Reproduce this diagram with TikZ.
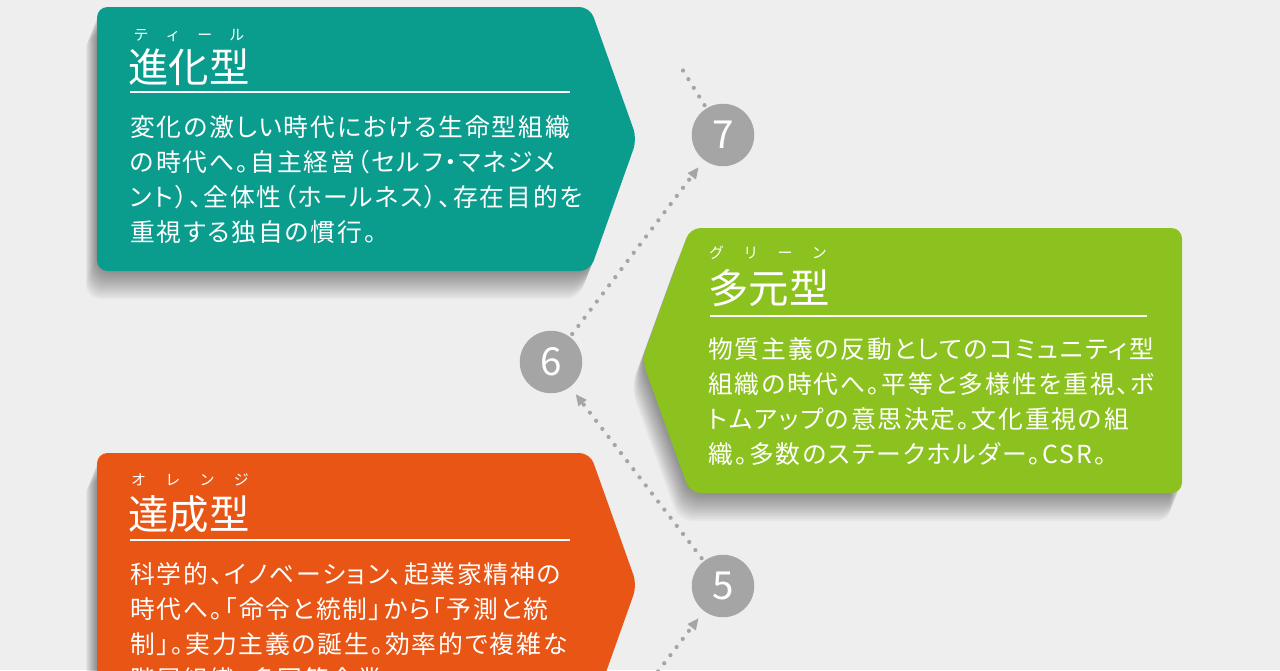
\documentclass[tikz,border=0pt]{standalone}
\usepackage{fontspec}
\newfontfamily\jpfont{Noto Sans CJK JP}
\newfontfamily\jpbody[CharacterWidth=AlternateProportional, LetterSpace=7.5]{Noto Sans CJK JP}
\usetikzlibrary{arrows.meta, positioning}
\definecolor{pagebg}{HTML}{EEEEEE}
\definecolor{tealcard}{HTML}{0A9C8D}
\definecolor{greencard}{HTML}{8CC21F}
\definecolor{orangecard}{HTML}{E85515}
\definecolor{stepgray}{HTML}{A5A5A5}

% card outlines
\def\tealshape{(97,7) -- (590,7) -- (637,139) -- (590,271) -- (97,271) -- cycle}
\def\greenshape{(690,228) -- (1182,228) -- (1182,493) -- (690,493) -- (642,360) -- cycle}
\def\orangeshape{(97,453) -- (590,453) -- (637,585) -- (590,717) -- (97,717) -- cycle}

\begin{document}
\begin{tikzpicture}[x=0.02cm, y=-0.02cm,
    card/.style={rounded corners=6pt},
    cardshade/.style={black, opacity=0.03, rounded corners=8pt},
    cardtitle/.style={text=white, font=\jpfont\fontsize{23}{26}\selectfont, inner sep=0pt, anchor=base west},
    cardruby/.style={text=white, font=\jpfont\fontsize{8.5}{9}\selectfont, inner sep=0pt},
    cardrule/.style={white, line width=1.2pt},
    cardbody/.style={text=white, font=\jpbody\fontsize{14.1}{19.9}\selectfont, align=left, inner sep=0pt, anchor=north west},
    stepnum/.style={circle, fill=stepgray, text=white, minimum size=1.25cm, inner sep=0pt, font=\jpfont\fontsize{22}{24}\selectfont},
    flowline/.style={stepgray, line width=2.4pt, line cap=round, dash pattern=on 0pt off 5.8pt, shorten <=2pt},
    flow/.style={flowline, -{Triangle[length=6.5pt,width=5.5pt]}, shorten >=5pt}
  ]
    \clip (0,0) rectangle (1280,670);
    \fill[pagebg] (0,0) rectangle (1280,670);

    % soft shadows under the cards
    \foreach \i in {1,...,14} {
      \fill[cardshade, shift={(-0.8*\i,2*\i)}] \tealshape;
      \fill[cardshade, shift={(-0.8*\i,2*\i)}] \greenshape;
      \fill[cardshade, shift={(-0.8*\i,2*\i)}] \orangeshape;
    }

    % Teal card
    \fill[tealcard, card] \tealshape;
    \node[cardruby] (tealruby) at (189,35) {\makebox[63pt]{テ\hfill ィ\hfill ー\hfill ル}};
    \node[cardtitle] (tealtitle) at (128,82) {進化型};
    \draw[cardrule] (130,92) -- (570,92);
    \node[cardbody] (tealbody) at (130,115) {変化の激しい時代における生命型組織\\の時代へ。自主経営（セルフ・マネジメ\\ント）、全体性（ホールネス）、存在目的を\\重視する独自の慣行。};

    % Green card
    \fill[greencard, card] \greenshape;
    \node[cardruby] (greenruby) at (768,253) {\makebox[67pt]{グ\hfill リ\hfill ー\hfill ン}};
    \node[cardtitle] (greentitle) at (708,303) {多元型};
    \draw[cardrule] (710,316) -- (1147,316);
    \node[cardbody] (greenbody) at (708,337) {物質主義の反動としてのコミュニティ型\\組織の時代へ。平等と多様性を重視、ボ\\トムアップの意思決定。文化重視の組\\織。多数のステークホルダー。CSR。};

    % Orange card
    \fill[orangecard, card] \orangeshape;
    \node[cardruby] (orangeruby) at (190,480) {\makebox[67pt]{オ\hfill レ\hfill ン\hfill ジ}};
    \node[cardtitle] (orangetitle) at (128,529) {達成型};
    \draw[cardrule] (130,540) -- (570,540);
    \node[cardbody] (orangebody) at (130,562) {科学的、イノベーション、起業家精神の\\時代へ。「命令と統制」から「予測と統\\制」。実力主義の誕生。効率的で複雑な\\階層組織、多国籍企業};

    % Steps
    \node[stepnum] (n7) at (723,135) {7};
    \node[stepnum] (n6) at (551,362) {6};
    \node[stepnum] (n5) at (723,586) {5};
    \coordinate (n4) at (551,812);
    \coordinate (n8) at (679,64);

    \draw[flow] (n4) -- (n5);
    \draw[flow] (n5) -- (n6);
    \draw[flow] (n6) -- (n7);
    \draw[flowline] (n7) -- (n8);
\end{tikzpicture}
\end{document}
